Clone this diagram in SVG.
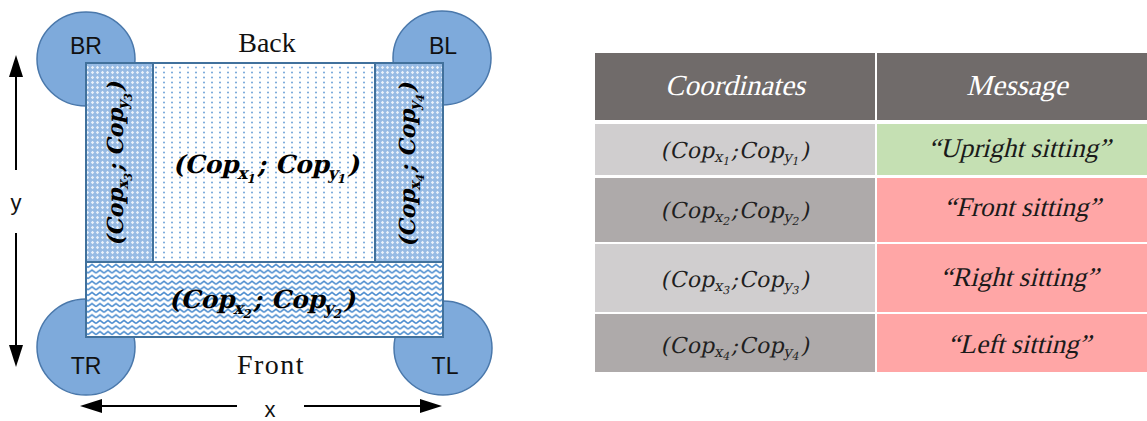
<svg xmlns="http://www.w3.org/2000/svg" width="1147" height="421" viewBox="0 0 1147 421">
<style>
.wheel{fill:#7eaadb;stroke:#4a78ab;stroke-width:1.5}
.lbl{font-family:"Liberation Sans",Arial,sans-serif;font-size:23px;fill:#111;text-anchor:middle}
.side{font-family:"Liberation Serif","Times New Roman",serif;font-size:28px;fill:#111;text-anchor:middle}
.panel{stroke:#41719c;stroke-width:2}
.math{font-family:"DejaVu Serif",serif;font-weight:bold;fill:#000;text-anchor:middle}
.tmath{font-family:"DejaVu Serif",serif;font-size:22px;fill:#1f1f1f;text-anchor:middle;letter-spacing:0.4px}
.hdr{font-family:"Liberation Serif","Times New Roman",serif;font-size:29px;fill:#fff;text-anchor:middle}
.msg{font-family:"Liberation Serif","Times New Roman",serif;font-size:27px;fill:#1a1a1a;text-anchor:middle}
.axis{stroke:#000;stroke-width:2;fill:none}
.axl{font-family:"Liberation Sans",Arial,sans-serif;font-size:22px;fill:#111;text-anchor:middle}
</style>
<defs>
<pattern id="cross" width="5" height="5" patternUnits="userSpaceOnUse">
<rect width="5" height="5" fill="#97bbe4"/>
<path d="M2.5 0.8 L4.2 2.5 L2.5 4.2 L0.8 2.5 Z" fill="#ffffff" fill-opacity="0.8"/>
</pattern>
<pattern id="dots" width="8" height="5" patternUnits="userSpaceOnUse">
<rect width="8" height="5" fill="#ffffff"/>
<rect x="3.2" y="1.7" width="1.6" height="1.6" fill="#5f98d4"/>
</pattern>
<pattern id="zig" width="8" height="5.6" patternUnits="userSpaceOnUse">
<rect width="8" height="5.6" fill="#ffffff"/>
<path d="M0 4.3 L4 1.2 L8 4.3" stroke="#4a8ccf" stroke-width="1.5" fill="none"/>
</pattern>
</defs>
<rect width="1147" height="421" fill="#ffffff"/>

<g id="wheel-BR"><ellipse class="wheel" cx="86" cy="59" rx="49" ry="47"/></g>
<g id="wheel-BL"><ellipse class="wheel" cx="442" cy="58" rx="49" ry="47"/></g>
<g id="wheel-TR"><ellipse class="wheel" cx="86" cy="347" rx="49" ry="48"/></g>
<g id="wheel-TL"><ellipse class="wheel" cx="443" cy="348" rx="49" ry="47"/></g>

<g id="panel-center"><rect class="panel" x="153" y="63" width="222" height="199" fill="url(#dots)"/></g>
<g id="panel-left"><rect class="panel" x="86" y="63" width="67" height="199" fill="url(#cross)"/></g>
<g id="panel-right"><rect class="panel" x="375" y="63" width="68" height="199" fill="url(#cross)"/></g>
<g id="panel-front"><rect class="panel" x="86" y="262" width="357" height="75" fill="url(#zig)"/></g>

<g id="labels-wheels">
<text class="lbl" x="86" y="54">BR</text>
<text class="lbl" x="443" y="54">BL</text>
<text class="lbl" x="86" y="374">TR</text>
<text class="lbl" x="445" y="374">TL</text>
</g>
<g id="labels-sides">
<text class="side" x="267" y="52">Back</text>
<text class="side" x="271" y="374" letter-spacing="1.5">Front</text>
</g>

<g id="cop1"><text class="math" transform="translate(266,173) skewX(-13)" font-size="25">(Cop<tspan font-size="17" dy="6">x</tspan><tspan font-size="12" dy="4">1</tspan><tspan dy="-10">; Cop</tspan><tspan font-size="17" dy="6">y</tspan><tspan font-size="12" dy="4">1</tspan><tspan dy="-10">)</tspan></text></g>
<g id="cop2"><text class="math" transform="translate(262,308) skewX(-13)" font-size="25">(Cop<tspan font-size="17" dy="6">x</tspan><tspan font-size="12" dy="4">2</tspan><tspan dy="-10">; Cop</tspan><tspan font-size="17" dy="6">y</tspan><tspan font-size="12" dy="4">2</tspan><tspan dy="-10">)</tspan></text></g>
<g id="cop3"><text class="math" transform="translate(123,164) rotate(-90) skewX(-13)" font-size="22">(Cop<tspan font-size="15" dy="5">x</tspan><tspan font-size="11" dy="3.5">3</tspan><tspan dy="-8.5">; Cop</tspan><tspan font-size="15" dy="5">y</tspan><tspan font-size="11" dy="3.5">3</tspan><tspan dy="-8.5">)</tspan></text></g>
<g id="cop4"><text class="math" transform="translate(415,165) rotate(-90) skewX(-13)" font-size="22">(Cop<tspan font-size="15" dy="5">x</tspan><tspan font-size="11" dy="3.5">4</tspan><tspan dy="-8.5">; Cop</tspan><tspan font-size="15" dy="5">y</tspan><tspan font-size="11" dy="3.5">4</tspan><tspan dy="-8.5">)</tspan></text></g>

<g id="connectors">
<line class="axis" x1="16" y1="170" x2="16" y2="74"/>
<polygon points="16,55 9,77 23,77" fill="#000"/>
<line class="axis" x1="16" y1="233" x2="16" y2="348"/>
<polygon points="16,367 9,345 23,345" fill="#000"/>
<line class="axis" x1="100" y1="406" x2="237" y2="406"/>
<polygon points="80,406 102,399 102,413" fill="#000"/>
<line class="axis" x1="304" y1="406" x2="422" y2="406"/>
<polygon points="442,406 420,399 420,413" fill="#000"/>
</g>
<g id="axis-labels">
<text class="axl" x="16" y="210">y</text>
<text class="axl" x="270" y="417">x</text>
</g>

<g id="table">
<rect x="595" y="53" width="280" height="67" fill="#706b6a"/>
<rect x="877" y="53" width="270" height="67" fill="#706b6a"/>
<rect x="595" y="124" width="280" height="51" fill="#d0cecf"/>
<rect x="877" y="124" width="270" height="51" fill="#c5e0b3"/>
<rect x="595" y="178" width="280" height="64" fill="#aeaaaa"/>
<rect x="877" y="178" width="270" height="64" fill="#ffa6a6"/>
<rect x="595" y="244" width="280" height="68" fill="#d0cecf"/>
<rect x="877" y="244" width="270" height="68" fill="#ffa6a6"/>
<rect x="595" y="314" width="280" height="58" fill="#aeaaaa"/>
<rect x="877" y="314" width="270" height="58" fill="#ffa6a6"/>
<text class="hdr" transform="translate(735,95) skewX(-14)">Coordinates</text>
<text class="hdr" transform="translate(1017,95) skewX(-14)">Message</text>
<text class="tmath" transform="translate(735,158) skewX(-12)">(Cop<tspan font-size="15" dy="4">x</tspan><tspan font-size="11" dy="3">1</tspan><tspan dy="-7">;Cop</tspan><tspan font-size="15" dy="4">y</tspan><tspan font-size="11" dy="3">1</tspan><tspan dy="-7">)</tspan></text>
<text class="tmath" transform="translate(735,218) skewX(-12)">(Cop<tspan font-size="15" dy="4">x</tspan><tspan font-size="11" dy="3">2</tspan><tspan dy="-7">;Cop</tspan><tspan font-size="15" dy="4">y</tspan><tspan font-size="11" dy="3">2</tspan><tspan dy="-7">)</tspan></text>
<text class="tmath" transform="translate(735,287) skewX(-12)">(Cop<tspan font-size="15" dy="4">x</tspan><tspan font-size="11" dy="3">3</tspan><tspan dy="-7">;Cop</tspan><tspan font-size="15" dy="4">y</tspan><tspan font-size="11" dy="3">3</tspan><tspan dy="-7">)</tspan></text>
<text class="tmath" transform="translate(735,353) skewX(-12)">(Cop<tspan font-size="15" dy="4">x</tspan><tspan font-size="11" dy="3">4</tspan><tspan dy="-7">;Cop</tspan><tspan font-size="15" dy="4">y</tspan><tspan font-size="11" dy="3">4</tspan><tspan dy="-7">)</tspan></text>
<text class="msg" transform="translate(1019,157) skewX(-14)">“Upright sitting”</text>
<text class="msg" transform="translate(1022,216) skewX(-14)">“Front sitting”</text>
<text class="msg" transform="translate(1019,286) skewX(-14)">“Right sitting”</text>
<text class="msg" transform="translate(1019,353) skewX(-14)">“Left sitting”</text>
</g>
</svg>
